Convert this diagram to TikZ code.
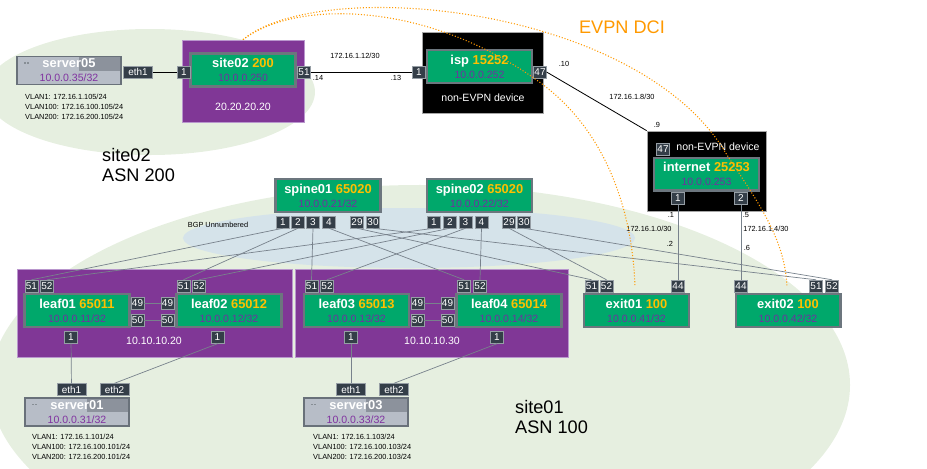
\documentclass[tikz,border=0pt]{standalone}
\usepackage{fontspec}
\setmainfont{Liberation Sans}
\usetikzlibrary{positioning,calc}

\definecolor{devgreen}{RGB}{0,168,107}
\definecolor{devedge}{RGB}{108,118,126}
\definecolor{portgray}{RGB}{52,62,72}
\definecolor{portedge}{RGB}{150,158,165}
\definecolor{podpurple}{RGB}{128,55,150}
\definecolor{podedge}{RGB}{185,150,205}
\definecolor{sitebg}{RGB}{230,239,224}
\definecolor{bgpbg}{RGB}{213,227,234}
\definecolor{linkgray}{RGB}{120,130,140}
\definecolor{dciorange}{RGB}{255,153,0}
\definecolor{asn}{RGB}{255,192,0}
\definecolor{ippurple}{RGB}{112,48,160}
\definecolor{srvbody}{RGB}{183,189,199}
\definecolor{srvdark}{RGB}{140,146,156}
\definecolor{srvedge}{RGB}{105,113,122}
\definecolor{srvpurple}{RGB}{128,50,160}

\newcommand\dev[3]{{\fontsize{11}{12}\selectfont\bfseries\color{white}#1 \color{asn}#2}\\{\color{ippurple}#3}}
\newcommand\srv[2]{{\fontsize{11}{12}\selectfont\bfseries\color{white}#1}\\{\color{srvpurple}#2}}

\tikzset{
  device/.style={draw=devedge, line width=2pt, fill=devgreen, minimum width=3.14cm, minimum height=0.98cm, inner sep=0pt, align=center, font=\fontsize{9}{12}\selectfont},
  port/.style={draw=portedge, line width=0.4pt, fill=portgray, text=white, minimum width=0.38cm, minimum height=0.36cm, inner sep=0pt, font=\fontsize{8.5}{9}\selectfont},
  ethport/.style={port, minimum width=0.86cm},
  server/.style={draw=srvedge, line width=1.4pt, fill=srvbody, minimum width=3.12cm, minimum height=0.84cm, inner sep=0pt, align=center, font=\fontsize{9}{12}\selectfont,
    path picture={
      \fill[srvdark] ($(path picture bounding box.north east)+(-1.26cm,0)$) rectangle (path picture bounding box.east);
      \fill[srvedge!80] ($(path picture bounding box.north west)+(0.2cm,-0.17cm)$) rectangle +(0.07cm,-0.05cm);
      \fill[srvedge!80] ($(path picture bounding box.north west)+(0.3cm,-0.17cm)$) rectangle +(0.07cm,-0.05cm);
    }},
  podbox/.style={draw=podedge, line width=0.6pt, fill=podpurple, inner sep=0pt},
  nonevpn/.style={draw=gray!70, line width=0.6pt, fill=black, inner sep=0pt},
  whitetext/.style={text=white, font=\fontsize{9}{11}\selectfont, inner sep=0pt},
  tinytext/.style={font=\fontsize{6.3}{8.5}\selectfont, align=left, inner sep=0pt},
  sitelabel/.style={font=\fontsize{15.5}{17}\selectfont, align=left, inner sep=0pt, anchor=west},
  link/.style={draw=linkgray, line width=0.6pt},
  wan/.style={draw=black, line width=0.7pt},
  dci/.style={draw=dciorange, line width=0.9pt, dash pattern=on 0.9pt off 1.6pt}
}

\begin{document}
\begin{tikzpicture}[x=0.03cm, y=-0.03cm]
\useasboundingbox (0,0) rectangle (927,468);
% backgrounds
\fill[sitebg] (150,92) ellipse [x radius=4.95cm, y radius=1.89cm]; % site02
\fill[sitebg] (420,385) ellipse [x radius=12.9cm, y radius=6cm]; % site01
\fill[bgpbg] (409,238) ellipse [x radius=6.78cm, y radius=0.9cm]; % BGP unnumbered

\node[podbox, minimum width=3.66cm, minimum height=2.46cm] (site02box) at (243,81) {};
\node[podbox, minimum width=8.25cm, minimum height=2.64cm] (pod1) at (154.5,313) {};
\node[podbox, minimum width=8.19cm, minimum height=2.64cm] (pod2) at (431.5,313) {};
\node[nonevpn, minimum width=3.63cm, minimum height=2.43cm] (ispbox) at (482.5,72.5) {};
\node[nonevpn, minimum width=3.57cm, minimum height=2.4cm] (inetbox) at (706.5,171) {};

\node[whitetext] (site02lo) at (243,107) {20.20.20.20};
\node[whitetext] (pod1lo) at (154,341) {10.10.10.20};
\node[whitetext] (pod2lo) at (432,341) {10.10.10.30};
\node[whitetext] (ispnote) at (483,98) {non-EVPN device};
\node[whitetext] (inetnote) at (718,147) {non-EVPN device};

% devices
\node[device] (site02) at (243,70) {\dev{site02}{200}{10.0.0.250}};
\node[device] (isp) at (479.5,66.5) {\dev{isp}{15252}{10.0.0.252}};
\node[device] (internet) at (706.5,174) {\dev{internet}{25253}{10.0.0.253}};
\node[device] (spine01) at (328,195.5) {\dev{spine01}{65020}{10.0.0.21/32}};
\node[device] (spine02) at (479.5,195.5) {\dev{spine02}{65020}{10.0.0.22/32}};
\node[device] (leaf01) at (77,310.5) {\dev{leaf01}{65011}{10.0.0.11/32}};
\node[device] (leaf02) at (229,310.5) {\dev{leaf02}{65012}{10.0.0.12/32}};
\node[device] (leaf03) at (356.5,310.5) {\dev{leaf03}{65013}{10.0.0.13/32}};
\node[device] (leaf04) at (509,310.5) {\dev{leaf04}{65014}{10.0.0.14/32}};
\node[device] (exit01) at (636.5,310.5) {\dev{exit01}{100}{10.0.0.41/32}};
\node[device] (exit02) at (788,310.5) {\dev{exit02}{100}{10.0.0.42/32}};

\node[server] (server05) at (69,70.5) {\srv{server05}{10.0.0.35/32}};
\node[server] (server01) at (77,412) {\srv{server01}{10.0.0.31/32}};
\node[server] (server03) at (356,412) {\srv{server03}{10.0.0.33/32}};

% ports
\node[ethport] (server05e1) at (138,72) {eth1};
\node[port] (site02p1) at (184,72) {1};
\node[port] (site02p51) at (304,72) {51};
\node[port] (isp1) at (419,72) {1};
\node[port] (isp47) at (540,72) {47};
\node[port] (inet47) at (663,149.5) {47};
\node[port] (inet1) at (678,198.5) {1};
\node[port] (inet2) at (741,198.5) {2};

\node[port] (spine01p1) at (283,222) {1};
\node[port] (spine01p2) at (298,222) {2};
\node[port] (spine01p3) at (313,222) {3};
\node[port] (spine01p4) at (329,222) {4};
\node[port] (spine01p29) at (357,222) {29};
\node[port] (spine01p30) at (373,222) {30};
\node[port] (spine02p1) at (434,222) {1};
\node[port] (spine02p2) at (450,222) {2};
\node[port] (spine02p3) at (465.5,222) {3};
\node[port] (spine02p4) at (481.5,222) {4};
\node[port] (spine02p29) at (509,222) {29};
\node[port] (spine02p30) at (524,222) {30};

\node[port] (leaf01p51) at (31.5,286) {51};
\node[port] (leaf01p52) at (47,286) {52};
\node[port] (leaf01p49) at (137.5,303) {49};
\node[port] (leaf01p50) at (137.5,320.5) {50};
\node[port] (leaf01p1) at (71,337.5) {1};
\node[port] (leaf02p51) at (183.5,286) {51};
\node[port] (leaf02p52) at (199,286) {52};
\node[port] (leaf02p49) at (167.5,303) {49};
\node[port] (leaf02p50) at (167.5,320.5) {50};
\node[port] (leaf02p1) at (217.5,337.5) {1};
\node[port] (leaf03p51) at (311.5,286) {51};
\node[port] (leaf03p52) at (327,286) {52};
\node[port] (leaf03p49) at (417.5,303) {49};
\node[port] (leaf03p50) at (417.5,320.5) {50};
\node[port] (leaf03p1) at (351,337.5) {1};
\node[port] (leaf04p51) at (464,286) {51};
\node[port] (leaf04p52) at (480,286) {52};
\node[port] (leaf04p49) at (447.5,303) {49};
\node[port] (leaf04p50) at (447.5,320.5) {50};
\node[port] (leaf04p1) at (497,337.5) {1};
\node[port] (exit01p51) at (591.5,286) {51};
\node[port] (exit01p52) at (606.5,286) {52};
\node[port] (exit01p44) at (678,286) {44};
\node[port] (exit02p44) at (741,286) {44};
\node[port] (exit02p51) at (816,286) {51};
\node[port] (exit02p52) at (832,286) {52};

\node[ethport] (server01e1) at (71.5,389.5) {eth1};
\node[ethport] (server01e2) at (114.5,389.5) {eth2};
\node[ethport] (server03e1) at (351,389.5) {eth1};
\node[ethport] (server03e2) at (394,389.5) {eth2};

% links
\draw[wan] (server05e1) -- (site02p1);
\draw[wan] (site02p51) -- (isp1);
\draw[wan] (isp47.east) -- (inetbox.north west);
\draw[link] (inet1) -- (exit01p44);
\draw[link] (inet2) -- (exit02p44);

\draw[link] (spine01p1.south) -- (leaf01p51.north);
\draw[link] (spine01p2.south) -- (leaf02p51.north);
\draw[link] (spine01p3.south) -- (leaf03p51.north);
\draw[link] (spine01p4.south) -- (leaf04p51.north);
\draw[link] (spine01p29.south) -- (exit01p51.north);
\draw[link] (spine01p30.south) -- (exit02p51.north);
\draw[link] (spine02p1.south) -- (leaf01p52.north);
\draw[link] (spine02p2.south) -- (leaf02p52.north);
\draw[link] (spine02p3.south) -- (leaf03p52.north);
\draw[link] (spine02p4.south) -- (leaf04p52.north);
\draw[link] (spine02p29.south) -- (exit01p52.north);
\draw[link] (spine02p30.south) -- (exit02p52.north);

\draw[link] (leaf01p49) -- (leaf02p49);
\draw[link] (leaf01p50) -- (leaf02p50);
\draw[link] (leaf03p49) -- (leaf04p49);
\draw[link] (leaf03p50) -- (leaf04p50);
\draw[link] (leaf01p1) -- (server01e1);
\draw[link] (leaf02p1.south) -- (server01e2.north);
\draw[link] (leaf03p1) -- (server03e1);
\draw[link] (leaf04p1.south) -- (server03e2.north);

% link labels
\node[tinytext] (wan1net) at (355,56) {172.16.1.12/30};
\node[tinytext] (wan1a) at (318,78) {.14};
\node[tinytext] (wan1b) at (396,78) {.13};
\node[tinytext] (wan2a) at (564,64) {.10};
\node[tinytext] (wan2net) at (632,97) {172.16.1.8/30};
\node[tinytext] (wan2b) at (657,125) {.9};
\node[tinytext] (wan3a) at (671,215) {.1};
\node[tinytext] (wan3net) at (649,229) {172.16.1.0/30};
\node[tinytext] (wan3b) at (670,244) {.2};
\node[tinytext] (wan4a) at (746,215) {.5};
\node[tinytext] (wan4net) at (766,229) {172.16.1.4/30};
\node[tinytext] (wan4b) at (747,248) {.6};
\node[tinytext] (bgplbl) at (218,225) {BGP Unnumbered};

\node[tinytext, anchor=west] (server05vlan) at (25,107) {VLAN1: 172.16.1.105/24\\VLAN100: 172.16.100.105/24\\VLAN200: 172.16.200.105/24};
\node[tinytext, anchor=west] (server01vlan) at (32,447) {VLAN1: 172.16.1.101/24\\VLAN100: 172.16.100.101/24\\VLAN200: 172.16.200.101/24};
\node[tinytext, anchor=west] (server03vlan) at (313,447) {VLAN1: 172.16.1.103/24\\VLAN100: 172.16.100.103/24\\VLAN200: 172.16.200.103/24};

\node[sitelabel] (site02lbl) at (102,165) {site02\\ASN 200};
\node[sitelabel] (site01lbl) at (515,417) {site01\\ASN 100};

% EVPN DCI
\coordinate (dci1end) at (635,287);
\coordinate (dci2end) at (787,287);
\draw[dci] (site02box.north) .. controls (295,0) and (425,0) .. (538,81) .. controls (600,125) and (632,200) .. (dci1end);
\draw[dci] (site02box.north) .. controls (320,-25) and (640,5) .. (727,155) .. controls (760,205) and (785,240) .. (dci2end);
\node[font=\fontsize{15.5}{17}\selectfont, text=dciorange, inner sep=0pt] (dcilbl) at (622,27) {EVPN DCI};
\end{tikzpicture}
\end{document}
